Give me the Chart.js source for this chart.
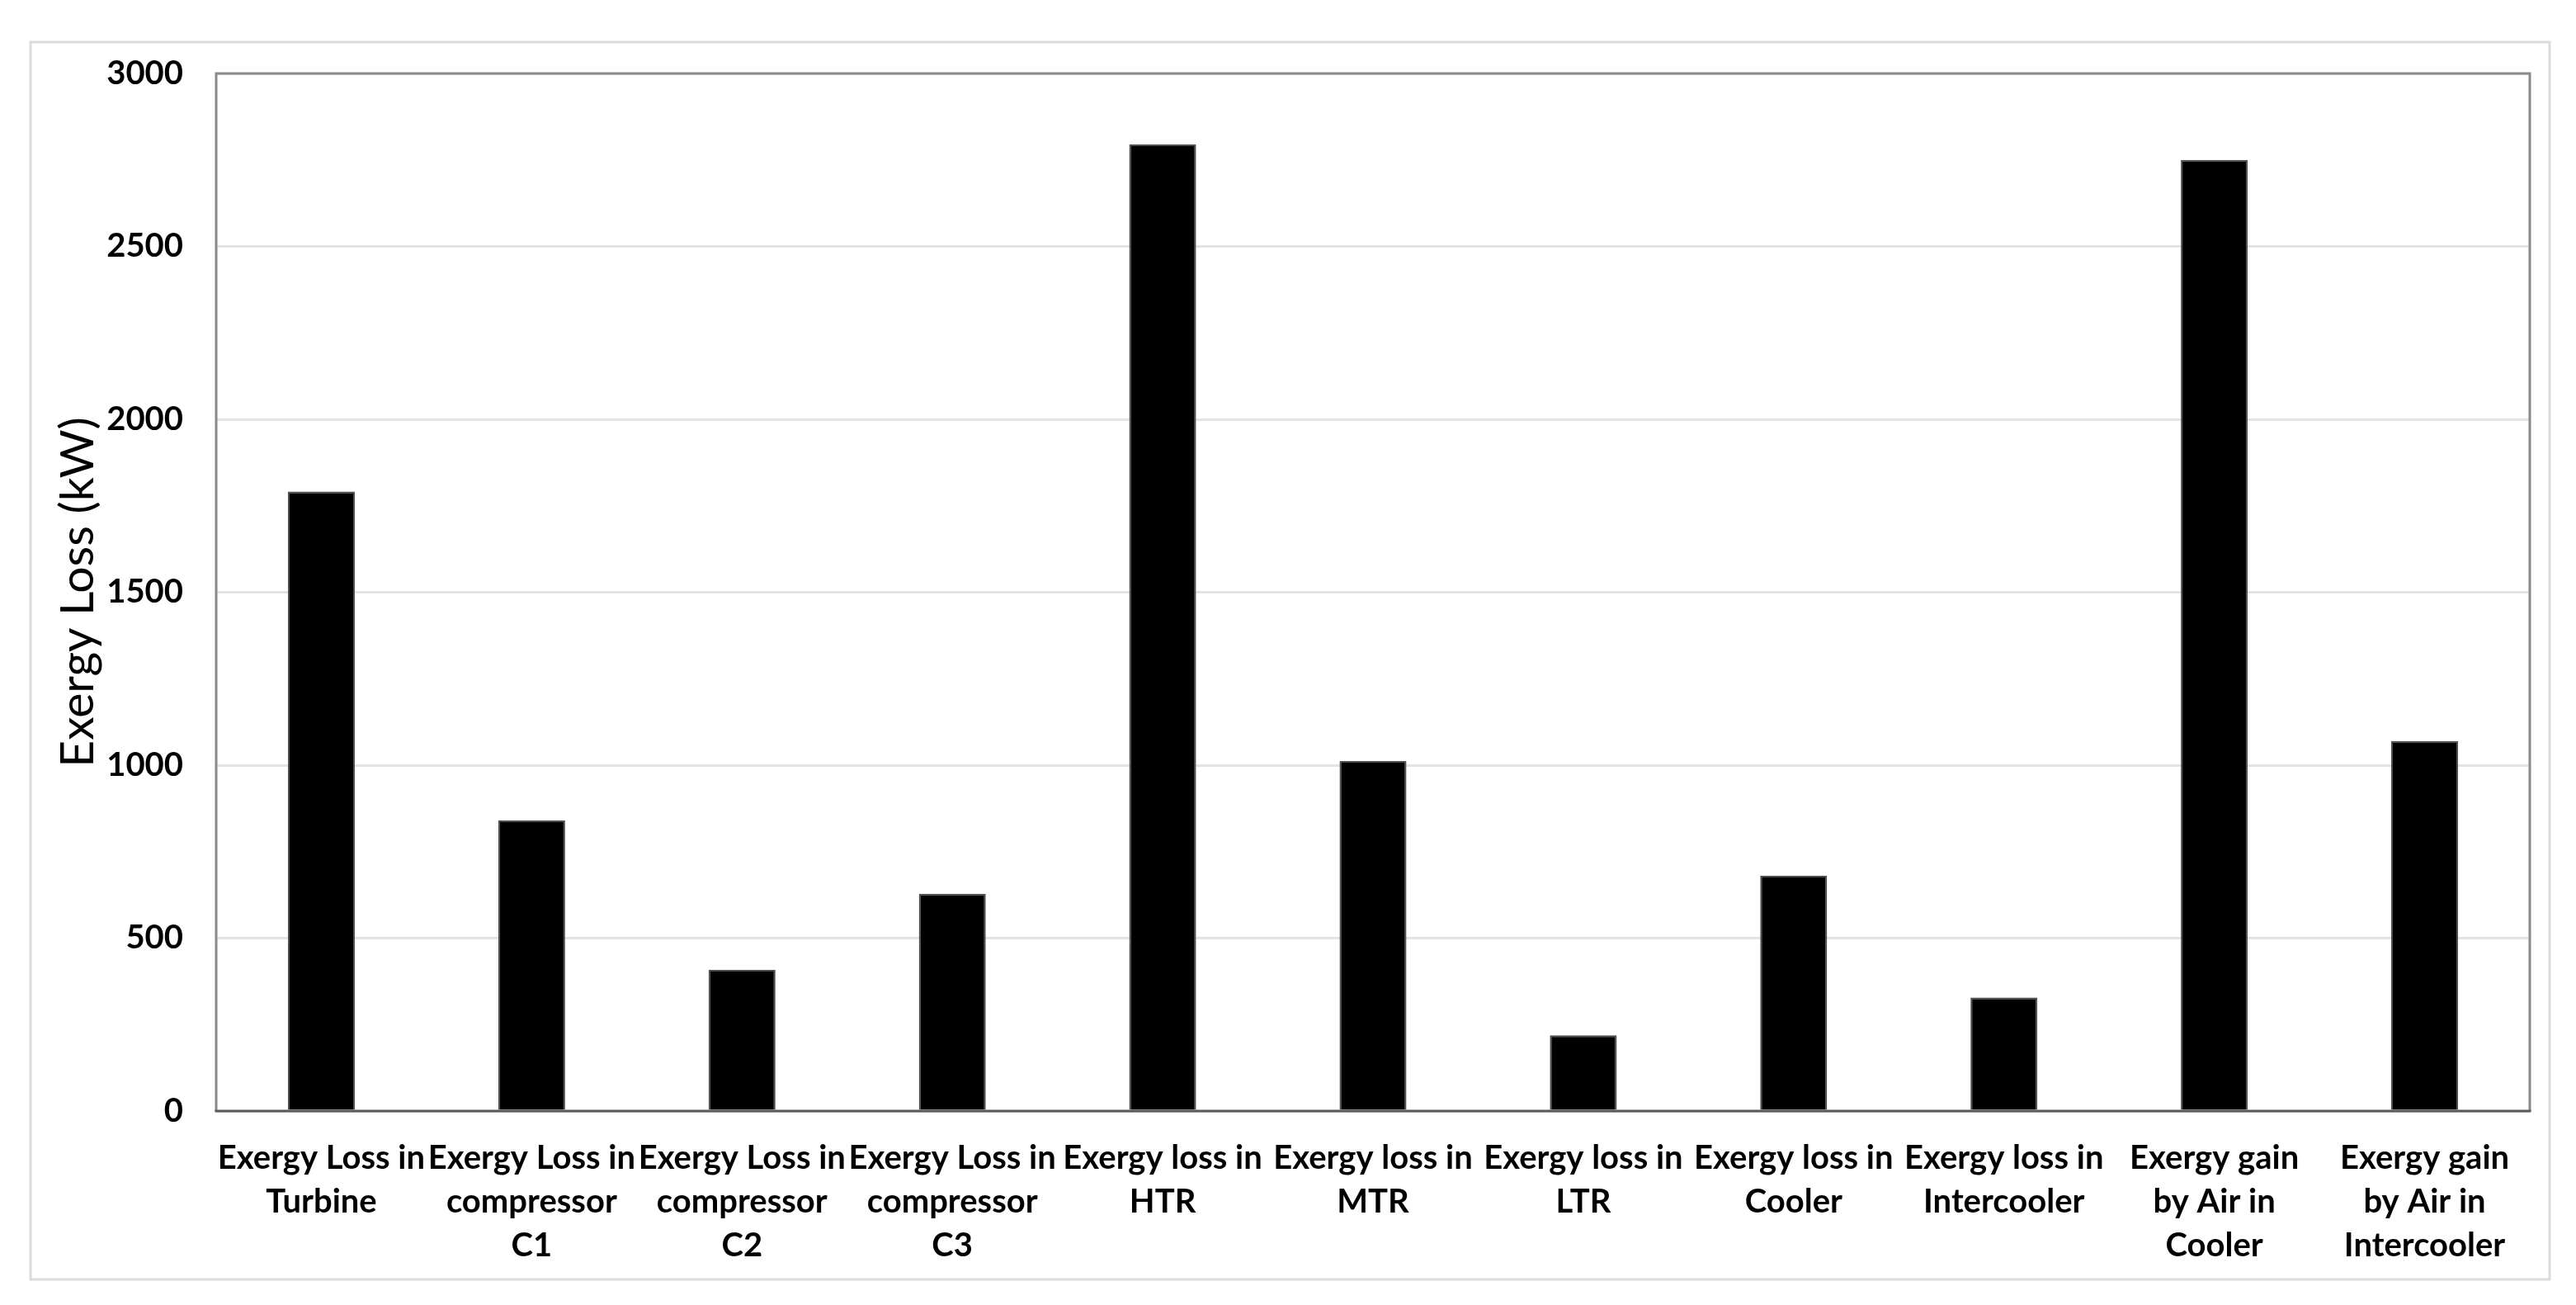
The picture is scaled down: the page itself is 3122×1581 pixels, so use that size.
<!DOCTYPE html>
<html>
<head>
<meta charset="utf-8">
<script src="https://cdn.jsdelivr.net/npm/chart.js@4.4.1/dist/chart.umd.min.js"></script>
<style>
    html, body { margin: 0; padding: 0; background: #fff; }
    #wrap { width: 3122px; height: 1581px; }
</style>
</head>
<body>
<div id="wrap"><canvas id="exergyChart" width="3122" height="1581"></canvas></div>
<script>
// Data
const categories = [
    ['Exergy Loss in', 'Turbine'],
    ['Exergy Loss in', 'compressor', 'C1'],
    ['Exergy Loss in', 'compressor', 'C2'],
    ['Exergy Loss in', 'compressor', 'C3'],
    ['Exergy loss in', 'HTR'],
    ['Exergy loss in', 'MTR'],
    ['Exergy loss in', 'LTR'],
    ['Exergy loss in', 'Cooler'],
    ['Exergy loss in', 'Intercooler'],
    ['Exergy gain', 'by Air in', 'Cooler'],
    ['Exergy gain', 'by Air in', 'Intercooler']
];
const exergyValues = [1791, 840, 408, 628, 2795, 1012, 219, 680, 328, 2750, 1070];
const yTicks = [0, 500, 1000, 1500, 2000, 2500, 3000];
const yTitle = 'Exergy Loss (kW)';

const FONT = 'Lato, "Liberation Sans", Arial, sans-serif';

// white background + light outer border, like the Excel chart frame
const chartFrame = {
    id: 'chartFrame',
    beforeDraw(chart) {
        const c = chart.ctx;
        c.save();
        c.fillStyle = '#ffffff';
        c.fillRect(0, 0, chart.width, chart.height);
        c.strokeStyle = '#dcdcdc';
        c.lineWidth = 3;
        c.strokeRect(37, 51, 3053, 1499);
        c.restore();
    },
    afterDatasetsDraw(chart) {
        const a = chart.chartArea;
        const c = chart.ctx;
        c.save();
        // plot area border (left, top, right)
        c.strokeStyle = '#8a8a8a';
        c.lineWidth = 3;
        c.beginPath();
        c.moveTo(a.left, a.bottom);
        c.lineTo(a.left, a.top);
        c.lineTo(a.right, a.top);
        c.lineTo(a.right, a.bottom);
        c.stroke();
        // category axis line
        c.strokeStyle = '#595959';
        c.beginPath();
        c.moveTo(a.left - 1.5, a.bottom);
        c.lineTo(a.right + 1.5, a.bottom);
        c.stroke();
        c.restore();
    }
};

const ctx = document.getElementById('exergyChart').getContext('2d');

new Chart(ctx, {
    type: 'bar',
    data: {
        labels: categories,
        datasets: [{
            label: yTitle,
            data: exergyValues,
            backgroundColor: '#000000',
            borderColor: '#4d4d4d',
            borderWidth: 2,
            barPercentage: 0.318,
            categoryPercentage: 1.0
        }]
    },
    options: {
        responsive: false,
        animation: false,
        devicePixelRatio: 1,
        layout: {
            padding: { top: 89, right: 56, bottom: 0, left: 0 }
        },
        plugins: {
            legend: { display: false },
            tooltip: { enabled: false }
        },
        scales: {
            x: {
                grid: { display: false, drawTicks: false },
                border: { display: false },
                ticks: {
                    autoSkip: false,
                    maxRotation: 0,
                    minRotation: 0,
                    padding: 30,
                    color: '#000000',
                    font: { family: FONT, size: 40, weight: 'bold', lineHeight: 1.33 }
                },
                afterFit(scale) { scale.height = 235; }
            },
            y: {
                min: 0,
                max: 3000,
                afterBuildTicks(scale) {
                    scale.ticks = yTicks.map(v => ({ value: v }));
                },
                grid: {
                    color: '#e3e3e3',
                    lineWidth: 3,
                    drawTicks: false
                },
                border: { display: false },
                ticks: {
                    padding: 40,
                    color: '#000000',
                    callback: v => String(v),
                    font: { family: FONT, size: 40, weight: 'bold' }
                },
                title: {
                    display: true,
                    text: yTitle,
                    color: '#000000',
                    padding: { top: 66, bottom: 0 },
                    font: { family: FONT, size: 57, weight: 'normal', lineHeight: 1.0 }
                },
                afterFit(scale) { scale.width = 262; }
            }
        }
    },
    plugins: [chartFrame]
});
</script>
</body>
</html>
